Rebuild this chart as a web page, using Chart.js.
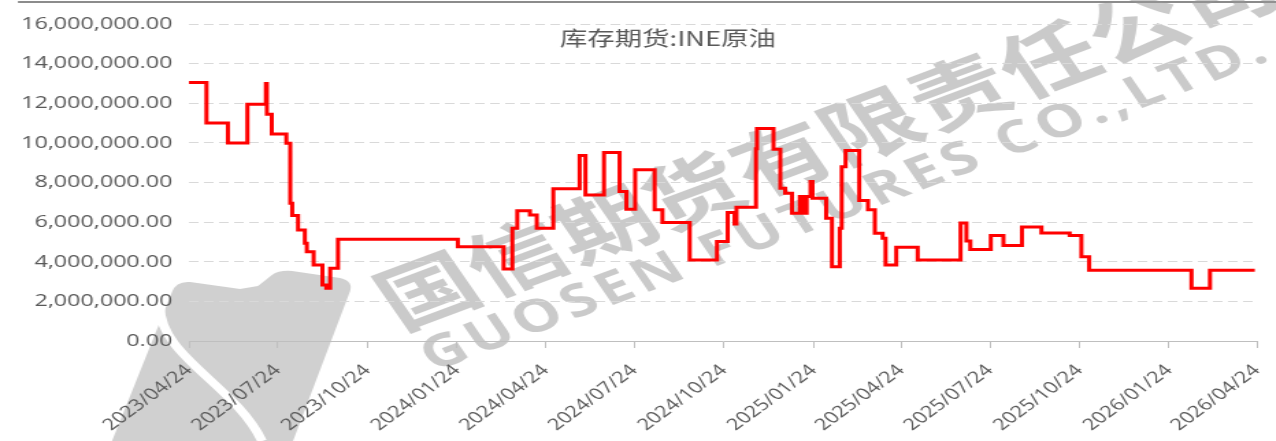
<!DOCTYPE html>
<html>
<head>
<meta charset="utf-8">
<script src="https://cdn.jsdelivr.net/npm/chart.js@4.4.1/dist/chart.umd.min.js"></script>
<style>
  html, body { margin: 0; padding: 0; background: #fff; overflow: hidden; }
  #wrap { width: 932px; height: 441px; transform: scaleX(1.369); transform-origin: 0 0; }
</style>
</head>
<body>
<div id="wrap"><canvas id="chart" width="932" height="441"></canvas></div>
<script>
// 库存期货:INE原油 — dates where the level changes, and the new level
const dates = [
  '2023-04-24', '2023-05-12', '2023-06-03', '2023-06-23', '2023-07-12', '2023-07-13',
  '2023-07-18', '2023-08-02', '2023-08-06', '2023-08-08', '2023-08-14', '2023-08-21',
  '2023-08-23', '2023-08-30', '2023-09-08', '2023-09-12', '2023-09-16', '2023-09-24',
  '2024-01-25', '2024-03-12', '2024-03-21', '2024-03-26', '2024-04-08', '2024-04-15',
  '2024-05-02', '2024-05-29', '2024-06-04', '2024-06-23', '2024-07-09', '2024-07-16',
  '2024-07-25', '2024-08-14', '2024-08-22', '2024-09-19', '2024-10-17', '2024-10-28',
  '2024-11-04', '2024-11-06', '2024-11-26', '2024-11-27', '2024-12-14', '2024-12-21',
  '2024-12-26', '2025-01-02', '2025-01-10', '2025-01-14', '2025-01-17', '2025-01-21',
  '2025-01-23', '2025-02-06', '2025-02-12', '2025-02-20', '2025-02-22', '2025-02-26',
  '2025-03-12', '2025-03-21', '2025-03-28', '2025-04-05', '2025-04-08', '2025-04-19',
  '2025-05-11', '2025-06-24', '2025-06-30', '2025-07-04', '2025-07-25', '2025-08-07',
  '2025-08-26', '2025-09-15', '2025-10-14', '2025-10-26', '2025-11-03', '2026-02-16',
  '2026-03-07', '2026-04-22'
];
const values = [
  13050000, 11000000, 10000000, 11950000, 13000000, 11450000,
  10450000, 9980000, 6950000, 6330000, 5600000, 4930000,
  4500000, 3840000, 2830000, 2660000, 3670000, 5140000,
  4760000, 3640000, 5690000, 6570000, 6360000, 5690000,
  7680000, 9360000, 7370000, 9510000, 7540000, 6650000,
  8640000, 6620000, 5980000, 4090000, 5020000, 6480000,
  5900000, 6750000, 9700000, 10720000, 9680000, 7710000,
  7460000, 6450000, 7290000, 6450000, 7290000, 8050000,
  7200000, 6200000, 3750000, 5690000, 8800000, 9610000,
  7090000, 6620000, 5440000, 5180000, 3840000, 4730000,
  4090000, 5960000, 5050000, 4620000, 5320000, 4820000,
  5760000, 5450000, 5320000, 4250000, 3570000, 2660000,
  3570000, 3570000
];
const tickLabels = [
  '2023/04/24', '2023/07/24', '2023/10/24', '2024/01/24', '2024/04/24', '2024/07/24',
  '2024/10/24', '2025/01/24', '2025/04/24', '2025/07/24', '2025/10/24', '2026/01/24',
  '2026/04/24'
];
const yTicks = [0, 2000000, 4000000, 6000000, 8000000, 10000000, 12000000, 14000000, 16000000];

const title = '库存期货:INE原油';
const STRETCH = 1276 / 932; // the reference picture is stretched sideways

const DAY = 86400000;
const base = Date.UTC(2023, 3, 24);
const toDay = s => {
  const [y, m, d] = s.split(/[-\/]/).map(Number);
  return (Date.UTC(y, m - 1, d) - base) / DAY;
};
const points = dates.map((d, i) => ({ x: toDay(d), y: values[i] }));
const tickDays = tickLabels.map(toDay);

const fmt = v => v.toLocaleString('en-US', { minimumFractionDigits: 2, maximumFractionDigits: 2 });

const backdrop = {
  id: 'backdrop',
  beforeDraw(chart) {
    const ctx = chart.ctx;
    const X = x => x / STRETCH;
    ctx.save();
    ctx.fillStyle = '#fff';
    ctx.fillRect(0, 0, chart.width, chart.height);

    // rule along the top edge
    ctx.strokeStyle = '#8c8c8c';
    ctx.lineWidth = 2;
    ctx.beginPath();
    ctx.moveTo(X(18), 2);
    ctx.lineTo(chart.width, 2);
    ctx.stroke();

    // logo shape, lower left
    ctx.fillStyle = 'rgba(150,150,150,0.45)';
    ctx.beginPath();
    ctx.moveTo(X(112), 441);
    ctx.lineTo(X(172), 292);
    ctx.quadraticCurveTo(X(176), 281, X(190), 282);
    ctx.lineTo(X(240), 289);
    ctx.lineTo(X(258), 286);
    ctx.lineTo(X(272), 275);
    ctx.quadraticCurveTo(X(279), 270, X(292), 271);
    ctx.lineTo(X(340), 278);
    ctx.quadraticCurveTo(X(355), 281, X(349), 294);
    ctx.lineTo(X(293), 441);
    ctx.closePath();
    ctx.fill();
    ctx.strokeStyle = '#fff';
    ctx.lineWidth = 7;
    ctx.beginPath();
    ctx.moveTo(X(160), 305);
    ctx.bezierCurveTo(X(158), 355, X(235), 385, X(262), 441);
    ctx.stroke();

    // watermark
    const ang = -27 * Math.PI / 180;
    ctx.fillStyle = 'rgba(150,150,150,0.5)';
    ctx.textAlign = 'center';
    ctx.textBaseline = 'middle';
    ctx.font = 'bold 72px "Noto Sans CJK SC"';
    const cn = '国信期货有限责任公司';
    ctx.translate(X(427), 290);
    ctx.rotate(ang);
    for (let i = 0; i < cn.length; i++) ctx.fillText(cn[i], i * 72.7, 0);
    ctx.setTransform(1, 0, 0, 1, 0, 0);
    ctx.font = 'bold 45px "Open Sans"';
    ctx.textAlign = 'left';
    ctx.letterSpacing = '4px';
    ctx.translate(X(445), 353);
    ctx.rotate(ang);
    ctx.fillText('GUOSEN FUTURES CO.,LTD.', -16, 0);
    ctx.restore();
  },
  afterDraw(chart) {
    const ctx = chart.ctx;
    ctx.save();
    ctx.fillStyle = '#595959';
    ctx.font = '20px "Noto Sans CJK SC"';
    ctx.textAlign = 'center';
    ctx.textBaseline = 'middle';
    ctx.fillText(title, 668 / STRETCH, 38);
    ctx.restore();
  }
};

new Chart(document.getElementById('chart'), {
  type: 'line',
  data: {
    datasets: [{
      label: title,
      data: points,
      borderColor: '#ff0000',
      borderWidth: 3,
      pointRadius: 0,
      stepped: true,
      fill: false
    }]
  },
  options: {
    responsive: false,
    animation: false,
    devicePixelRatio: 1,
    layout: { padding: { top: 24, right: 14, left: 0, bottom: 0 } },
    plugins: { legend: { display: false }, tooltip: { enabled: false }, title: { display: false } },
    scales: {
      x: {
        type: 'linear',
        min: tickDays[0],
        max: tickDays[tickDays.length - 1],
        afterBuildTicks: s => { s.ticks = tickDays.map(v => ({ value: v })); },
        afterFit: s => { s.height = 100; s.paddingRight = 0; },
        grid: { display: true, drawOnChartArea: false, drawTicks: true, tickLength: 7, color: '#bfbfbf' },
        border: { display: true, color: '#bfbfbf', width: 1 },
        ticks: {
          autoSkip: false,
          minRotation: 45,
          maxRotation: 45,
          padding: 13,
          color: '#595959',
          font: { family: 'Open Sans', size: 16 },
          callback: (v, i) => tickLabels[i]
        }
      },
      y: {
        min: yTicks[0],
        max: yTicks[yTicks.length - 1],
        afterBuildTicks: s => { s.ticks = yTicks.map(v => ({ value: v })); },
        afterFit: s => { s.width = 138; },
        grid: { drawTicks: false, color: c => c.tick && c.tick.value === 0 ? 'rgba(0,0,0,0)' : '#d9d9d9' },
        border: { display: false, dash: [7, 4] },
        ticks: {
          padding: 12,
          color: '#595959',
          font: { family: 'Open Sans', size: 17 },
          callback: v => fmt(v)
        }
      }
    }
  },
  plugins: [backdrop]
});
</script>
</body>
</html>
